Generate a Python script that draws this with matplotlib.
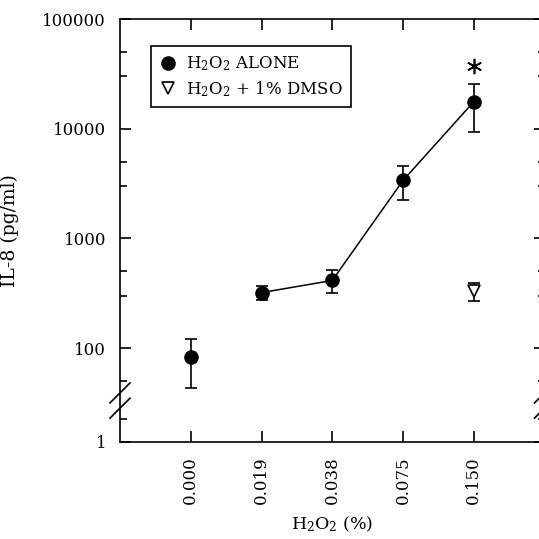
import matplotlib
matplotlib.use("Agg")
import matplotlib.pyplot as plt
import matplotlib.transforms as mtransforms
from matplotlib.lines import Line2D
from matplotlib.ticker import FixedLocator, FixedFormatter, NullFormatter

plt.rcParams['font.family'] = ['DejaVu Serif']
plt.rcParams['mathtext.fontset'] = 'dejavuserif'

# H2O2 concentration (%) categories
conc_labels = ['0.000', '0.019', '0.038', '0.075', '0.150']

# IL-8 (pg/ml), H2O2 alone
alone_mean = [83, 320, 413, 3370, 17600]
alone_hi = [121, 365, 511, 4520, 25600]
alone_lo = [43, 272, 315, 2260, 9400]

# IL-8 (pg/ml), H2O2 + 1% DMSO (only at 0.150 %)
dmso_idx = [4]
dmso_mean = [330]
dmso_hi = [390]
dmso_lo = [267]

# broken y axis: the "1" tick sits just below the break
ytick_vals = [13.9, 100, 1000, 10000, 100000]
ytick_labels = ['1', '100', '1000', '10000', '100000']
yminor_vals = [22.5, 50, 300, 500, 3000, 5000, 30000, 50000]


def errs(mean, lo, hi):
    return [[m - l for m, l in zip(mean, lo)], [h - m for m, h in zip(mean, hi)]]


def plot_il8(output_file):
    fig = plt.figure(figsize=(5.39, 5.39), dpi=100)
    ax = fig.add_axes([120 / 539, 97 / 539, 424.5 / 539, 423 / 539])

    x = list(range(len(conc_labels)))

    # connecting line (0.000 is not joined)
    ax.plot(x[1:], alone_mean[1:], color='black', lw=1.1, zorder=2)
    ax.errorbar(x, alone_mean, yerr=errs(alone_mean, alone_lo, alone_hi),
                fmt='o', color='black', ms=9.5, capsize=4, elinewidth=1.2,
                capthick=1.2, zorder=3)
    ax.errorbar(dmso_idx, dmso_mean, yerr=errs(dmso_mean, dmso_lo, dmso_hi),
                fmt='v', color='black', mfc='white', ms=9, mew=1.2,
                capsize=4, elinewidth=1.2, capthick=1.2, zorder=3)

    # significance asterisk above the top cap at 0.150 %
    off = mtransforms.ScaledTranslation(0, 13 / 72, fig.dpi_scale_trans)
    ax.plot([x[4]], [alone_hi[4]], marker=(6, 2, 0), ms=11, mew=1.2,
            color='black', transform=ax.transData + off, clip_on=False)

    ax.set_yscale('log')
    ax.set_ylim(ytick_vals[0], ytick_vals[-1])
    ax.set_xlim(-1, 5)
    ax.yaxis.set_major_locator(FixedLocator(ytick_vals))
    ax.yaxis.set_major_formatter(FixedFormatter(ytick_labels))
    ax.yaxis.set_minor_locator(FixedLocator(yminor_vals))
    ax.yaxis.set_minor_formatter(NullFormatter())
    ax.set_xticks(x)
    ax.set_xticklabels(conc_labels, rotation=90)

    ax.tick_params(which='both', direction='in', top=True, right=True,
                   width=1.2, labelsize=12)
    ax.tick_params(which='major', length=8)
    ax.tick_params(which='minor', length=5)
    ax.tick_params(axis='y', pad=10)
    ax.tick_params(axis='x', pad=10)
    for sp in ax.spines.values():
        sp.set_linewidth(1.2)

    # axis break marks on both sides
    for xs in (0, 1):
        for yc in (0.116, 0.080):
            ax.plot([xs - 0.0236, xs + 0.0236], [yc - 0.0236, yc + 0.0236],
                    transform=ax.transAxes, color='black', lw=1.2,
                    clip_on=False)

    ax.set_ylabel('IL-8 (pg/ml)', fontsize=13.5)
    ax.yaxis.set_label_coords(-0.238, 0.5)
    ax.set_xlabel(r'H$_2$O$_2$ (%)', fontsize=12.5, labelpad=8)

    handles = [
        Line2D([], [], ls='none', marker='o', color='black', ms=9.5),
        Line2D([], [], ls='none', marker='v', color='black', mfc='white',
               ms=9, mew=1.2),
    ]
    labels = [r'H$_2$O$_2$ ALONE', r'H$_2$O$_2$ + 1% DMSO']
    leg = ax.legend(handles, labels, loc='upper left',
                    bbox_to_anchor=(0.073, 0.936), borderaxespad=0,
                    fancybox=False, edgecolor='black', framealpha=1,
                    fontsize=12, handletextpad=0.6, handlelength=1.0,
                    labelspacing=0.35, borderpad=0.5)
    leg.get_frame().set_linewidth(1.2)

    fig.savefig(output_file, dpi=100)
    plt.close(fig)


plot_il8('out.png')
